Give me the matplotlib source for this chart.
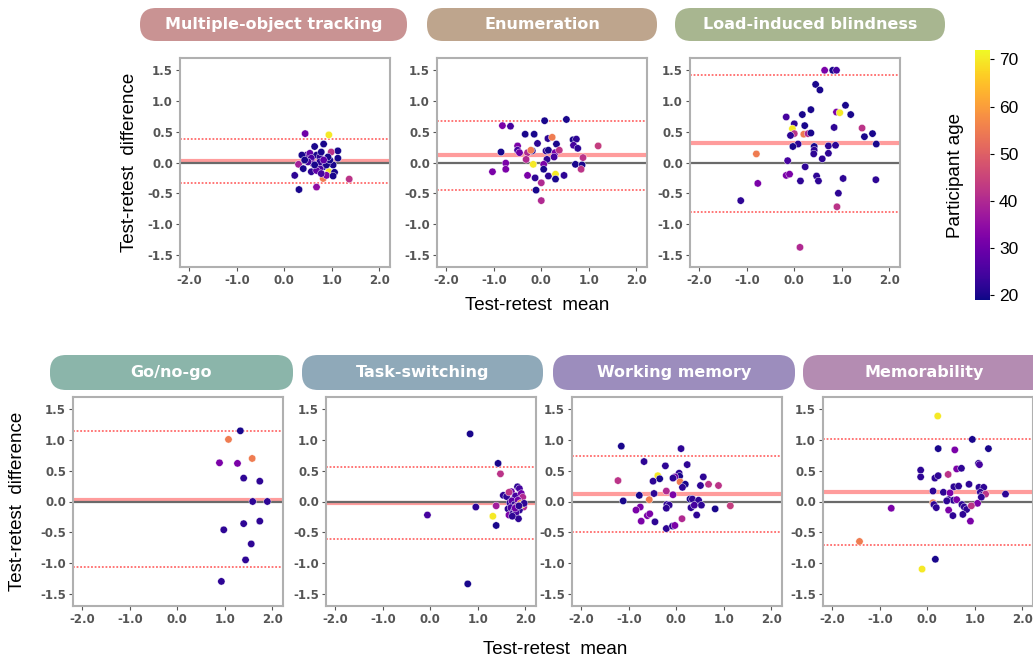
import numpy as np
import matplotlib
matplotlib.use("Agg")
import matplotlib.pyplot as plt
from matplotlib.patches import FancyBboxPatch
from matplotlib.ticker import FormatStrFormatter

plt.rcParams["axes.unicode_minus"] = False

# ---- data (mean, difference, participant age) ----
mot_mean = [0.44, 0.94, 0.83, 0.64, 1.13, 0.22, 0.31, 0.68, 0.82, 1.37, 0.94, 0.99, 0.30, 0.40,
            0.57, 0.89, 1.06, 1.03, 1.13, 0.47, 0.37, 0.54, 0.68, 0.75, 0.78, 0.57, 0.61, 0.71,
            0.82, 0.75, 0.68, 0.89, 0.96, 0.50, 0.43, 0.75, 0.92, 0.83, 0.64, 0.78, 1.03]
mot_diff = [0.47, 0.45, 0.30, 0.26, 0.19, -0.21, -0.44, -0.40, -0.26, -0.27, -0.15, 0.17, -0.03,
            -0.10, -0.15, -0.21, -0.16, -0.04, 0.07, 0.12, 0.12, 0.15, 0.12, 0.09, 0.17, 0.07,
            -0.02, -0.04, -0.07, -0.10, -0.13, -0.04, 0.04, 0.01, 0.04, 0.01, 0.09, 0.04, -0.04,
            -0.18, -0.22]
mot_age = [30, 70, 20, 20, 20, 22, 20, 35, 55, 42, 70, 42, 38, 20, 22, 32, 20, 20, 20, 25, 20,
           28, 20, 22, 20, 25, 30, 20, 22, 25, 28, 20, 20, 25, 20, 22, 20, 28, 20, 25, 20]

enum_mean = [0.07, 0.53, -0.82, -0.65, -0.34, -0.15, 0.14, 0.23, 0.32, -0.08, -0.50, -0.50,
             -0.46, -0.85, -0.29, -0.19, -0.22, 0.10, 0.15, 0.29, 0.38, 0.27, 0.12, 0.67, 0.74,
             0.68, 0.77, 1.20, 0.88, -0.75, -0.32, -0.17, 0.05, 0.05, 0.72, 0.86, 0.84, -1.03,
             -0.75, -0.29, -0.13, 0.15, 0.30, 0.30, 0.48, 0.00, -0.11, 0.00]
enum_diff = [0.68, 0.70, 0.60, 0.59, 0.46, 0.46, 0.39, 0.41, 0.30, 0.31, 0.27, 0.20, 0.16, 0.17,
             0.16, 0.19, 0.20, 0.19, 0.20, 0.16, 0.20, 0.09, 0.05, 0.37, 0.38, 0.28, 0.23, 0.27,
             0.08, -0.01, 0.05, -0.03, -0.03, -0.11, -0.03, -0.04, -0.11, -0.15, -0.11, -0.21,
             -0.25, -0.22, -0.19, -0.27, -0.21, -0.33, -0.45, -0.62]
enum_age = [20, 20, 32, 25, 20, 20, 22, 55, 20, 22, 32, 25, 30, 20, 40, 20, 55, 22, 20, 32, 42,
            25, 22, 20, 22, 25, 22, 44, 42, 32, 40, 70, 32, 20, 20, 20, 42, 32, 32, 32, 22, 22,
            70, 20, 22, 40, 20, 40]

lib_mean = [0.64, 0.81, 0.89, 0.45, 0.54, 1.08, 1.19, 0.89, 0.96, 0.35, -0.17, 0.17, 0.00, 0.22,
            0.84, 1.43, -0.04, 0.00, -0.08, 0.20, 0.29, 0.35, 1.48, 1.65, 1.73, 0.08, -0.03, 0.42,
            0.42, 0.72, 0.87, -0.80, 0.41, 0.72, 0.59, -0.14, 0.23, -0.17, -0.10, -0.77, 0.13,
            0.47, 0.51, 1.03, 1.72, 0.93, 0.90, -1.13, 0.12]
lib_diff = [1.50, 1.50, 1.50, 1.27, 1.18, 0.93, 0.78, 0.82, 0.81, 0.86, 0.74, 0.78, 0.63, 0.60,
            0.57, 0.56, 0.55, 0.47, 0.44, 0.46, 0.47, 0.48, 0.42, 0.47, 0.30, 0.30, 0.26, 0.26,
            0.20, 0.27, 0.28, 0.14, 0.14, 0.15, 0.06, 0.03, -0.07, -0.21, -0.19, -0.34, -0.30,
            -0.22, -0.30, -0.26, -0.28, -0.50, -0.72, -0.62, -1.38]
lib_age = [32, 20, 25, 20, 20, 20, 20, 32, 70, 20, 25, 20, 22, 20, 22, 42, 70, 42, 22, 55, 40,
           20, 20, 20, 20, 22, 20, 20, 22, 22, 22, 55, 22, 22, 22, 25, 22, 32, 32, 32, 22, 22,
           22, 22, 22, 22, 42, 22, 40]

gng_mean = [1.33, 1.08, 1.58, 0.89, 1.27, 1.40, 1.74, 1.59, 1.90, 0.98, 1.40, 1.74, 1.56, 1.44, 0.93]
gng_diff = [1.15, 1.01, 0.70, 0.63, 0.62, 0.38, 0.33, 0.00, 0.00, -0.46, -0.36, -0.32, -0.69,
            -0.95, -1.30]
gng_age = [20, 55, 55, 32, 32, 22, 22, 22, 22, 22, 22, 22, 22, 22, 22]

ts_mean = [0.84, 0.79, -0.06, 0.96, 1.43, 1.48, 1.39, 1.32, 1.39, 1.84, 1.88, 1.54, 1.61, 1.71,
           1.66, 1.75, 1.80, 1.92, 1.95, 1.68, 1.72, 1.78, 1.85, 1.90, 1.97, 1.64, 1.70, 1.76,
           1.82, 1.88, 1.93, 1.66, 1.74, 1.81, 1.86, 1.98, 1.73, 1.79, 1.87]
ts_diff = [1.10, -1.34, -0.22, -0.09, 0.62, 0.45, -0.07, -0.24, -0.39, 0.24, 0.21, 0.10, 0.08,
           0.16, 0.15, 0.03, 0.09, 0.13, 0.07, -0.02, 0.01, -0.05, 0.02, -0.03, -0.09, -0.12,
           -0.10, -0.16, -0.08, -0.14, -0.05, -0.22, -0.20, -0.18, -0.28, -0.03, -0.24, -0.11,
           -0.07]
ts_age = [20, 20, 25, 22, 20, 42, 38, 70, 20, 22, 25, 22, 22, 30, 42, 22, 25, 30, 40, 22, 28,
          22, 30, 55, 40, 22, 25, 22, 35, 22, 70, 32, 22, 25, 22, 22, 22, 30, 22]

wm_mean = [-1.16, 0.10, -0.68, 0.23, -0.23, -0.39, -0.35, 0.06, 0.07, -0.03, -0.07, 0.57, -1.23,
           -0.49, 0.08, 0.19, 0.13, 0.51, 0.68, 0.89, -0.21, -0.47, -0.07, -0.78, -1.12, -0.57,
           0.29, 0.34, 0.47, -0.20, -0.15, 0.53, 1.14, 0.82, 0.31, 0.38, -0.21, -0.76, -0.85,
           -0.61, -0.56, -0.74, -0.45, 0.43, 0.12, -0.21, -0.08, -0.03]
wm_diff = [0.90, 0.86, 0.65, 0.60, 0.58, 0.42, 0.37, 0.46, 0.41, 0.40, 0.38, 0.40, 0.34, 0.33,
           0.32, 0.28, 0.23, 0.26, 0.28, 0.26, 0.17, 0.13, 0.11, 0.10, 0.01, 0.03, 0.04, 0.04,
           0.02, -0.05, -0.06, -0.06, -0.07, -0.12, -0.10, -0.06, -0.11, -0.09, -0.14, -0.23,
           -0.20, -0.32, -0.33, -0.22, -0.28, -0.44, -0.40, -0.39]
wm_age = [20, 22, 22, 22, 22, 70, 20, 22, 20, 30, 22, 22, 42, 22, 55, 20, 22, 22, 42, 42, 40,
          22, 32, 20, 20, 55, 20, 22, 22, 22, 22, 22, 44, 20, 22, 25, 22, 32, 32, 32, 32, 32,
          22, 22, 40, 22, 22, 32]

mem_mean = [0.22, 0.95, 0.23, 0.58, 1.29, 1.08, 1.10, 0.62, 0.72, -0.14, -0.14, 0.16, 0.23,
            0.44, 0.56, 0.66, 0.88, 1.09, 1.19, 0.12, 0.34, 0.48, 1.12, 1.16, 1.23, 1.65, 1.14,
            1.06, 0.45, 0.55, 0.62, 0.41, 0.12, 0.14, 0.19, 0.73, 0.78, 0.83, 0.93, -0.76, 0.45,
            0.54, 0.75, 0.91, -1.43, 0.17, -0.11]
mem_diff = [1.39, 1.01, 0.86, 0.84, 0.86, 0.62, 0.60, 0.53, 0.54, 0.51, 0.40, 0.38, 0.42, 0.44,
            0.24, 0.25, 0.28, 0.23, 0.23, 0.17, 0.15, 0.14, 0.15, 0.10, 0.12, 0.12, 0.07, -0.03,
            0.03, 0.02, 0.03, 0.01, -0.02, -0.05, -0.10, -0.05, -0.09, -0.13, -0.07, -0.11,
            -0.14, -0.23, -0.21, -0.32, -0.65, -0.94, -1.10]
mem_age = [70, 20, 20, 32, 20, 22, 25, 32, 22, 22, 22, 22, 22, 42, 22, 22, 22, 22, 22, 22, 22,
           32, 22, 22, 42, 22, 22, 32, 22, 22, 32, 22, 55, 22, 22, 22, 22, 22, 42, 32, 32, 22,
           22, 32, 55, 20, 70]

tasks = ["Multiple-object tracking", "Enumeration", "Load-induced blindness",
         "Go/no-go", "Task-switching", "Working memory", "Memorability"]
pill_colors = ["#c99393", "#bea58d", "#a8b690", "#8bb5aa", "#8fa9b9", "#9c8dbd", "#b48cb2"]
bias = [0.02, 0.12, 0.31, 0.03, -0.03, 0.13, 0.15]
loa_upper = [0.38, 0.67, 1.43, 1.14, 0.56, 0.74, 1.01]
loa_lower = [-0.34, -0.44, -0.81, -1.06, -0.61, -0.49, -0.71]

means = [mot_mean, enum_mean, lib_mean, gng_mean, ts_mean, wm_mean, mem_mean]
diffs = [mot_diff, enum_diff, lib_diff, gng_diff, ts_diff, wm_diff, mem_diff]
ages = [mot_age, enum_age, lib_age, gng_age, ts_age, wm_age, mem_age]

W, H = 1033, 662
fig = plt.figure(figsize=(W / 100, H / 100), dpi=100)

# axes boxes in pixels: left, top
boxes = [(180, 58), (437, 58), (690, 58), (73, 397), (326, 397), (572, 397), (823, 397)]
pills = [(140, 8, 267, 33), (427, 8, 230, 33), (675, 8, 270, 33),
         (50, 355, 243, 35), (302, 355, 241, 35), (553, 355, 242, 35), (803, 355, 260, 35)]
aw, ah = 210, 209

sc = None
for i, name in enumerate(tasks):
    lx, ty = boxes[i]
    ax = fig.add_axes([lx / W, (H - ty - ah) / H, aw / W, ah / H])
    ax.axhline(bias[i], color="#ff9c9c", lw=3, zorder=1)
    ax.axhline(0, color="#6a6a6a", lw=1.6, zorder=2)
    ax.axhline(loa_upper[i], color="#ff6b6b", lw=1.3, ls=(0, (1, 1)), zorder=1)
    ax.axhline(loa_lower[i], color="#ff6b6b", lw=1.3, ls=(0, (1, 1)), zorder=1)
    sc = ax.scatter(means[i], diffs[i], c=ages[i], cmap="plasma", vmin=19, vmax=72,
                    s=28, edgecolors="white", linewidths=0.3, zorder=3)
    ax.set_xlim(-2.2, 2.23)
    ax.set_ylim(-1.7, 1.7)
    ax.set_xticks([-2, -1, 0, 1, 2])
    ax.set_yticks([-1.5, -1.0, -0.5, 0, 0.5, 1.0, 1.5])
    ax.xaxis.set_major_formatter(FormatStrFormatter("%.1f"))
    ax.yaxis.set_major_formatter(FormatStrFormatter("%.1f"))
    ax.tick_params(labelsize=8.5, colors="#555555", length=3, width=0.8, pad=2)
    for lab in ax.get_xticklabels() + ax.get_yticklabels():
        lab.set_fontweight("bold")
    for sp in ax.spines.values():
        sp.set_color("#b0b0b0")
        sp.set_linewidth(1.5)

    px, py, pw, ph = pills[i]
    pill = FancyBboxPatch((px / 100, (H - py - ph) / 100), pw / 100, ph / 100,
                          boxstyle="round,pad=0,rounding_size=0.16",
                          transform=fig.dpi_scale_trans, facecolor=pill_colors[i],
                          edgecolor="none")
    fig.add_artist(pill)
    cx = px + 243 / 2 if i == 6 else px + pw / 2
    fig.text(cx / W, 1 - (py + ph / 2) / H, name, ha="center", va="center",
             color="white", fontsize=11.5, fontweight="bold")

lab_font = dict(family="Liberation Sans", fontsize=13.5)
fig.text(130 / W, 1 - 162 / H, "Test-retest  difference", rotation=90, ha="center",
         va="center", **lab_font)
fig.text(18 / W, 1 - 501 / H, "Test-retest  difference", rotation=90, ha="center",
         va="center", **lab_font)
fig.text(537 / W, 1 - 305 / H, "Test-retest  mean", ha="center", va="center", **lab_font)
fig.text(555 / W, 1 - 650 / H, "Test-retest  mean", ha="center", va="center", **lab_font)

cax = fig.add_axes([975 / W, (H - 300) / H, 15 / W, 250 / H])
cbar = fig.colorbar(sc, cax=cax)
cbar.set_ticks([20, 30, 40, 50, 60, 70])
cbar.outline.set_visible(False)
cax.tick_params(labelsize=12.5, length=3)
for lab in cax.get_yticklabels():
    lab.set_family("Liberation Sans")
cax.yaxis.set_label_position("left")
cbar.set_label("Participant age", family="Liberation Sans", fontsize=13.5, labelpad=8)

fig.savefig("out.png", dpi=100)
